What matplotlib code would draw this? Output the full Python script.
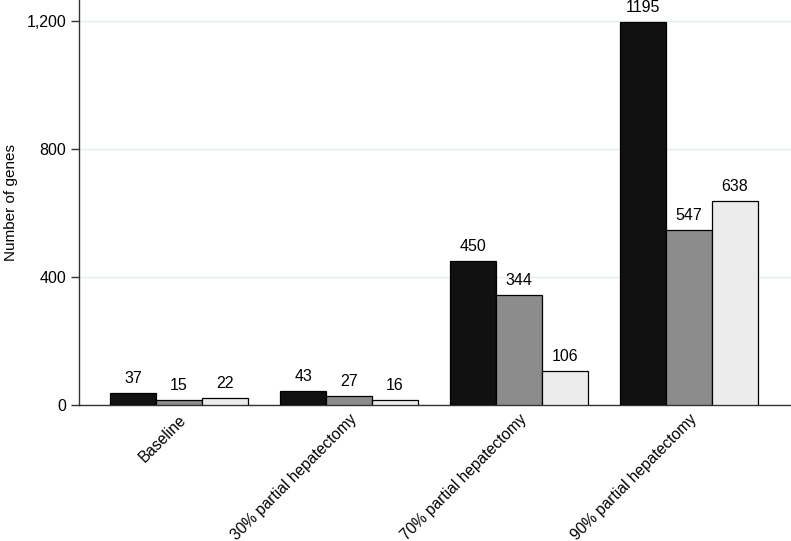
import numpy as np
import matplotlib.pyplot as plt

plt.rcParams['font.family'] = ['Liberation Sans', 'DejaVu Sans']

groups = ["Baseline", "30% partial hepatectomy", "70% partial hepatectomy", "90% partial hepatectomy"]
series_a = [37, 43, 450, 1195]
series_b = [15, 27, 344, 547]
series_c = [22, 16, 106, 638]

colors = ["#111111", "#8c8c8c", "#ececec"]

fig = plt.figure(figsize=(7.91, 5.41), dpi=100)
ax = fig.add_axes([79 / 791, 136 / 541, 712 / 791, 405 / 541])

x = np.arange(len(groups))
w = 0.27
for i, (vals, col) in enumerate(zip([series_a, series_b, series_c], colors)):
    pos = x + (i - 1) * w
    ax.bar(pos, vals, width=w, color=col, edgecolor="black", linewidth=0.9, zorder=3)
    for p, v in zip(pos, vals):
        ax.annotate(str(v), (p, v), xytext=(0, 5), textcoords="offset points",
                    ha="center", va="bottom", fontsize=11.5)

ax.set_xlim(-0.588, 3.6)
ax.set_ylim(0, 1265)
ax.set_yticks([0, 400, 800, 1200])
ax.set_yticklabels(["0", "400", "800", "1,200"], fontsize=11.5)
ax.set_ylabel("Number of genes", fontsize=11, labelpad=6)
ax.yaxis.grid(True, color="#e4eeee", linewidth=1, zorder=0)

ax.set_xticks(x)
ax.set_xticklabels(groups, rotation=45, ha="right", va="top", rotation_mode="anchor", fontsize=11.2)
ax.tick_params(axis="x", length=0, pad=5)
ax.tick_params(axis="y", length=6, width=1, color="#333333", pad=3)

for s in ["top", "right"]:
    ax.spines[s].set_visible(False)
for s in ["left", "bottom"]:
    ax.spines[s].set_color("#333333")
    ax.spines[s].set_linewidth(1)

fig.savefig("out.png", dpi=100)
